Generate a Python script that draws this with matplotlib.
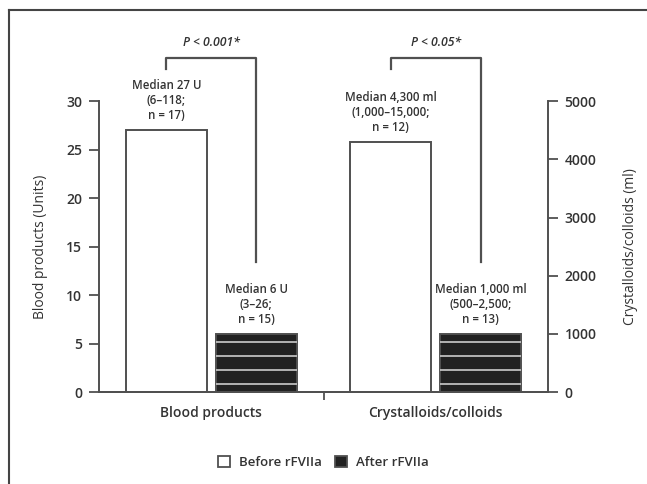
import numpy as np
import matplotlib
matplotlib.use("Agg")
import matplotlib.pyplot as plt
from matplotlib.patches import Patch
from matplotlib.lines import Line2D

plt.rcParams['font.family'] = ['Open Sans', 'DejaVu Sans']
plt.rcParams['font.weight'] = 'semibold'

# data
groups = ['Blood products', 'Crystalloids/colloids']
blood = [27, 6]          # units
fluids = [4300, 1000]    # ml
labels_blood = ['Median 27 U\n(6–118;\nn = 17)', 'Median 6 U\n(3–26;\nn = 15)']
labels_fluids = ['Median 4,300 ml\n(1,000–15,000;\nn = 12)',
                 'Median 1,000 ml\n(500–2,500;\nn = 13)']
p_texts = ['P < 0.001*', 'P < 0.05*']
series = ['Before rFVIIa', 'After rFVIIa']
left_ticks = [0, 5, 10, 15, 20, 25, 30]
right_ticks = [0, 1000, 2000, 3000, 4000, 5000]

edge = '#505050'
dark = '#222222'
off = 0.2
w = 0.36
stripes = np.linspace(0.14, 0.86, 4)   # white stripes, fraction of bar height

fig = plt.figure(figsize=(6.47, 4.84), dpi=100)
ax = fig.add_axes([0.153, 0.19, 0.694, 0.601])
ax2 = ax.twinx()

x = np.arange(len(groups))

def draw_pair(a, xc, vals):
    a.bar(xc - off, vals[0], w, facecolor='white', edgecolor=edge, linewidth=1.4, zorder=2)
    a.bar(xc + off, vals[1], w, facecolor=dark, edgecolor=edge, linewidth=1.4, zorder=2)
    a.hlines(vals[1] * stripes, xc + off - w / 2, xc + off + w / 2,
             colors='#cccccc', lw=1.2, zorder=3)

draw_pair(ax, x[0], blood)
draw_pair(ax2, x[1], fluids)

ax.set_xlim(-0.5, 1.5)
ax.set_ylim(0, 30)
ax2.set_ylim(0, 5000)
ax.set_yticks(left_ticks)
ax2.set_yticks(right_ticks)

for a in (ax, ax2):
    for s in a.spines.values():
        s.set_color(edge)
        s.set_linewidth(1.4)
    a.spines['top'].set_visible(False)
    a.tick_params(axis='y', length=7, width=1.3, color=edge, labelsize=10,
                  pad=5, labelcolor='#333333')
ax.spines['right'].set_visible(False)
ax2.spines['left'].set_visible(False)

ax.set_xticks(x)
ax.set_xticklabels(groups, fontsize=10, color='#333333')
ax.tick_params(axis='x', length=0, pad=10)
ax.set_xticks([0.5], minor=True)
ax.tick_params(axis='x', which='minor', length=6, width=1.3, color=edge)

ax.set_ylabel('Blood products (Units)', fontsize=10, labelpad=13, color='#333333')
ax2.set_ylabel('Crystalloids/colloids (ml)', fontsize=10, labelpad=19,
               rotation=90, color='#333333')

# median annotations
for a, xc, vals, labs in ((ax, x[0], blood, labels_blood), (ax2, x[1], fluids, labels_fluids)):
    for dx, v, t in zip((-off, off), vals, labs):
        a.annotate(t, (xc + dx, v), xytext=(0, 6), textcoords='offset points',
                   ha='center', va='bottom', fontsize=8.3, linespacing=1.2,
                   color='#333333', zorder=5)

# significance brackets (drawn in left-axis units)
top, tick_end, drop_end = 34.5, 33.3, 13.4
for xc, pt in zip(x, p_texts):
    x1, x2 = xc - off, xc + off
    ax.plot([x1, x1, x2, x2], [tick_end, top, top, drop_end], color=edge,
            lw=1.6, clip_on=False, zorder=4)
    ax.text((x1 + x2) / 2, top + 0.9, pt, ha='center', va='bottom',
            fontsize=8.8, style='italic', color='#333333')

# legend
handles = [Patch(facecolor='white', edgecolor=edge, linewidth=1.3),
           Patch(facecolor=dark, edgecolor=edge, linewidth=1.3)]
fig.legend(handles, series, loc='center', bbox_to_anchor=(0.5, 0.045), ncol=2,
           frameon=False, fontsize=9.5, handlelength=0.9, handleheight=0.9,
           columnspacing=1.0, handletextpad=0.7, labelcolor='#333333')

# page frame
fig.add_artist(Line2D([0.014, 1.01], [0.979, 0.979], color='#444444', lw=1.5))
fig.add_artist(Line2D([0.014, 0.014], [-0.01, 0.979], color='#444444', lw=1.5))

fig.savefig('out.png', dpi=100)
